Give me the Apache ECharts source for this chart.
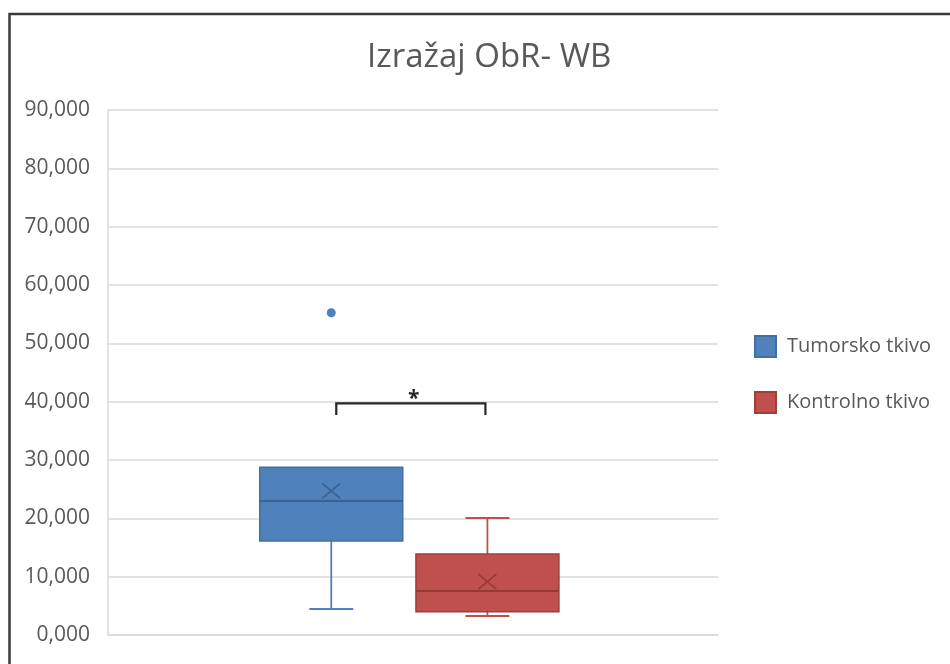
<!DOCTYPE html>
<html>
<head>
<meta charset="utf-8">
<script src="https://cdn.jsdelivr.net/npm/echarts@6/dist/echarts.min.js"></script>
<style>
html, body { margin: 0; padding: 0; background: #ffffff; }
#chart { width: 950px; height: 664px; }
</style>
</head>
<body>
<div id="chart"></div>
<script>
// ---- data (values on the 0–90 scale; labels shown with decimal comma) ----
const categories = ['ObR'];
const seriesNames = ['Tumorsko tkivo', 'Kontrolno tkivo'];
// [lower whisker, Q1, median, Q3, upper whisker]
const tumorBox = [4.46, 16.1, 22.97, 28.75, 28.75];
const controlBox = [3.26, 4.0, 7.54, 13.89, 20.06];
const tumorMean = 24.7;
const controlMean = 9.14;
const tumorOutliers = [55.25];
const controlOutliers = [];
// significance bracket: top level, end level, label
const bracketTop = 39.72;
const bracketEnd = 37.7;
const bracketLabel = '*';
const yTicks = { min: 0, max: 90, interval: 10 };

// ---- layout / style constants ----
const BOX_W = 0.2344;             // box width as fraction of category band
const CAP_W = 0.072;              // whisker cap width as fraction of band
const OFFSETS = [-0.134, 0.122];  // box centre offset from band centre (fraction of band)
const FILLS = ['#4f81bd', '#c0504d'];
const BORDERS = ['#41709f', '#9f3f3c'];
const INNER = ['#3a6190', '#953a37'];
const TXT = '#595959';
const FONT = '"Open Sans", sans-serif';

function boxRender(idx) {
  return function (params, api) {
    const cat = api.value(0);
    const band = api.size([1, 0])[0];
    const cx = api.coord([cat, 0])[0] + OFFSETS[idx] * band;
    const w = BOX_W * band;
    const cw = CAP_W * band;
    const y = v => api.coord([cat, v])[1];
    const low = api.value(1), q1 = api.value(2), med = api.value(3),
          q3 = api.value(4), high = api.value(5), mean = api.value(6);
    const wStyle = { stroke: FILLS[idx], lineWidth: 1.8 };
    const children = [];
    if (low < q1) {
      children.push({ type: 'line', shape: { x1: cx, y1: y(low), x2: cx, y2: y(q1) }, style: wStyle });
      children.push({ type: 'line', shape: { x1: cx - cw / 2, y1: y(low), x2: cx + cw / 2, y2: y(low) }, style: wStyle });
    }
    if (high > q3) {
      children.push({ type: 'line', shape: { x1: cx, y1: y(high), x2: cx, y2: y(q3) }, style: wStyle });
      children.push({ type: 'line', shape: { x1: cx - cw / 2, y1: y(high), x2: cx + cw / 2, y2: y(high) }, style: wStyle });
    }
    children.push({
      type: 'rect',
      shape: { x: cx - w / 2, y: y(q3), width: w, height: y(q1) - y(q3) },
      style: { fill: FILLS[idx], stroke: BORDERS[idx], lineWidth: 1.5 }
    });
    children.push({
      type: 'line',
      shape: { x1: cx - w / 2, y1: y(med), x2: cx + w / 2, y2: y(med) },
      style: { stroke: INNER[idx], lineWidth: 1.8 }
    });
    const ym = y(mean), hx = 9, hy = 7.5;
    children.push({ type: 'line', shape: { x1: cx - hx, y1: ym - hy, x2: cx + hx, y2: ym + hy }, style: { stroke: INNER[idx], lineWidth: 1.6 } });
    children.push({ type: 'line', shape: { x1: cx - hx, y1: ym + hy, x2: cx + hx, y2: ym - hy }, style: { stroke: INNER[idx], lineWidth: 1.6 } });
    return { type: 'group', children: children };
  };
}

function outlierRender(idx) {
  return function (params, api) {
    const cat = api.value(0);
    const band = api.size([1, 0])[0];
    const p = api.coord([cat, api.value(1)]);
    return { type: 'circle', shape: { cx: p[0] + OFFSETS[idx] * band, cy: p[1], r: 4.5 }, style: { fill: FILLS[idx] } };
  };
}

function bracketRender(params, api) {
  const cat = api.value(0);
  const band = api.size([1, 0])[0];
  const base = api.coord([cat, 0])[0];
  const x1 = base + OFFSETS[0] * band + 5;
  const x2 = base + OFFSETS[1] * band - 2;
  const yt = api.coord([cat, api.value(1)])[1];
  const ye = api.coord([cat, api.value(2)])[1];
  return {
    type: 'group',
    children: [
      { type: 'polyline', shape: { points: [[x1, ye], [x1, yt], [x2, yt], [x2, ye]] },
        style: { stroke: '#262626', lineWidth: 2.2, fill: null } },
      { type: 'text', x: (x1 + x2) / 2 + 3, y: yt - 4,
        style: { text: bracketLabel, fill: '#262626', font: 'bold 21px ' + FONT, align: 'center', verticalAlign: 'middle' } }
    ]
  };
}

const boxes = [tumorBox, controlBox];
const means = [tumorMean, controlMean];
const outliers = [tumorOutliers, controlOutliers];

const series = [];
seriesNames.forEach((name, i) => {
  series.push({
    name: name,
    type: 'custom',
    renderItem: boxRender(i),
    itemStyle: { color: FILLS[i], borderColor: BORDERS[i], borderWidth: 1.5 },
    encode: { x: 0, y: [1, 2, 3, 4, 5, 6] },
    data: [[0].concat(boxes[i]).concat([means[i]])],
    z: 3
  });
});
seriesNames.forEach((name, i) => {
  series.push({
    name: name + ' outliers',
    type: 'custom',
    renderItem: outlierRender(i),
    encode: { x: 0, y: 1 },
    data: outliers[i].map(v => [0, v]),
    z: 4
  });
});
series.push({
  name: 'significance',
  type: 'custom',
  renderItem: bracketRender,
  encode: { x: 0, y: [1, 2] },
  data: [[0, bracketTop, bracketEnd]],
  z: 4
});

const chart = echarts.init(document.getElementById('chart'), null, { renderer: 'canvas' });
chart.setOption({
  animation: false,
  backgroundColor: '#ffffff',
  title: {
    text: 'Izražaj ObR- WB',
    left: 362,
    top: 36,
    textStyle: { fontFamily: FONT, fontSize: 33, fontWeight: 'normal', color: TXT }
  },
  legend: {
    data: seriesNames,
    orient: 'vertical',
    left: 749,
    top: 330,
    itemWidth: 21,
    itemHeight: 21,
    itemGap: 33,
    icon: 'rect',
    textStyle: { fontFamily: FONT, fontSize: 20, color: TXT, padding: [0, 0, 0, 6] }
  },
  grid: { left: 108, right: 232, top: 110, bottom: 29, containLabel: false },
  xAxis: {
    type: 'category',
    data: categories,
    axisLine: { show: true, lineStyle: { color: '#d9d9d9', width: 1.5 } },
    axisTick: { show: false },
    axisLabel: { show: false },
    splitLine: { show: false }
  },
  yAxis: {
    type: 'value',
    min: yTicks.min,
    max: yTicks.max,
    interval: yTicks.interval,
    axisLine: { show: true, lineStyle: { color: '#d9d9d9', width: 1.5 } },
    axisTick: { show: false },
    axisLabel: {
      margin: 18,
      fontFamily: FONT,
      fontSize: 21,
      color: TXT,
      formatter: v => v.toFixed(3).replace('.', ',')
    },
    splitLine: { show: true, lineStyle: { color: '#d9d9d9', width: 1.5 } }
  },
  graphic: [
    { type: 'polyline', shape: { points: [[9.5, 664], [9.5, 14], [950, 14]] },
      style: { stroke: '#3a3a3a', lineWidth: 2.5, fill: null }, z: 10 }
  ],
  series: series
});
</script>
</body>
</html>
